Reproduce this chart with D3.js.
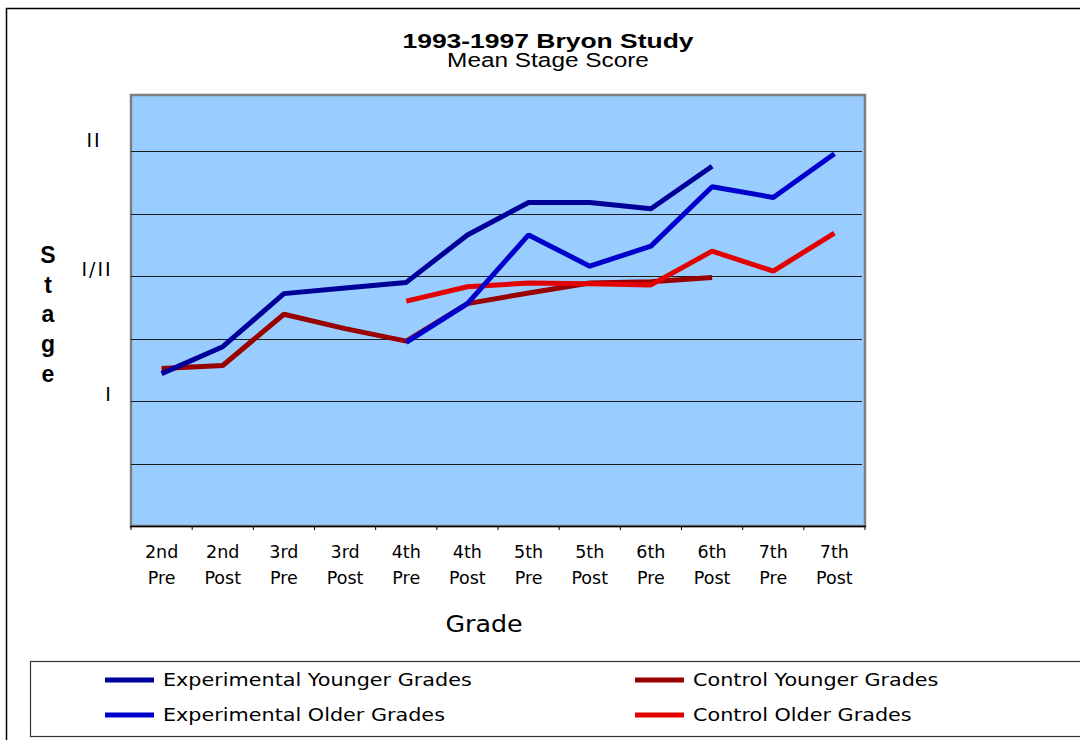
<!DOCTYPE html>
<html>
<head>
<meta charset="utf-8">
<script src="https://cdn.jsdelivr.net/npm/d3@7"></script>
<style>
  body { margin: 0; background: #fff; }
  svg { display: block; }
</style>
</head>
<body>
<svg width="1080" height="740"></svg>
<script>
// grades along the x axis ("grade + test")
var categories = ["2nd Pre", "2nd Post", "3rd Pre", "3rd Post", "4th Pre", "4th Post",
  "5th Pre", "5th Post", "6th Pre", "6th Post", "7th Pre", "7th Post"];

// mean stage scores (null = not measured)
var expYounger = [2.44, 2.87, 3.72, 3.81, 3.90, 4.66, 5.18, 5.18, 5.08, 5.76, null, null];
var expOlder   = [null, null, null, null, 2.94, 3.56, 4.66, 4.16, 4.48, 5.43, 5.26, 5.96];
var ctlYounger = [2.52, 2.57, 3.39, 3.16, 2.96, 3.56, 3.73, 3.89, 3.91, 3.98, null, null];
var ctlOlder   = [null, null, null, null, 3.60, 3.83, 3.89, 3.88, 3.86, 4.40, 4.08, 4.69];

var stageTicks = [2, 4, 6];
var stageLabels = ["I", "I/II", "II"];

var series = [
  { name: "Control Younger Grades", values: ctlYounger, color: "#990000" },
  { name: "Control Older Grades", values: ctlOlder, color: "#e30000" },
  { name: "Experimental Younger Grades", values: expYounger, color: "#000099" },
  { name: "Experimental Older Grades", values: expOlder, color: "#0000cc" }
];

var svg = d3.select("svg");
var plotLeft = 131, plotRight = 865, plotTop = 95, plotBottom = 526;

var x = d3.scaleBand().domain(categories).range([plotLeft, plotRight]);
var y = d3.scaleLinear().domain([0, 6.9]).range([plotBottom, plotTop]);

// text that is stretched horizontally like the original
function stretchText(parent, cx, cy, str, size, sx, font, weight, anchor) {
  return parent.append("g")
    .attr("transform", "translate(" + cx + "," + cy + ") scale(" + sx + ",1)")
    .append("text")
    .attr("text-anchor", anchor || "middle")
    .attr("font-family", font)
    .attr("font-size", size)
    .attr("font-weight", weight || "normal")
    .attr("fill", "#000")
    .text(str);
}

// outer chart frame
svg.append("rect")
  .attr("x", 6.5).attr("y", 8.5)
  .attr("width", 1100).attr("height", 800)
  .attr("fill", "#fff")
  .attr("stroke", "#000").attr("stroke-width", 1.5);

// titles
stretchText(svg, 548, 48, "1993-1997 Bryon Study", 21, 1.26, "Liberation Sans, Arial, sans-serif", "bold");
stretchText(svg, 548, 67, "Mean Stage Score", 19.5, 1.25, "Liberation Sans, Arial, sans-serif");

// plot area
svg.append("rect")
  .attr("x", plotLeft).attr("y", plotTop)
  .attr("width", plotRight - plotLeft).attr("height", plotBottom - plotTop)
  .attr("fill", "#99ccff")
  .attr("stroke", "#7f7f7f").attr("stroke-width", 2.5);

// gridlines
svg.append("g")
  .attr("transform", "translate(" + plotLeft + ",0)")
  .call(d3.axisLeft(y).tickValues(d3.range(1, 7)).tickSize(-(plotRight - plotLeft - 3)).tickFormat(""))
  .call(function (g) { g.select(".domain").remove(); })
  .selectAll("line")
  .attr("stroke", "#1a1a1a")
  .attr("shape-rendering", "crispEdges");

// x axis line and ticks between categories
var xAxis = svg.append("g");
xAxis.append("line")
  .attr("x1", plotLeft - 1).attr("x2", plotRight + 1)
  .attr("y1", plotBottom + 0.5).attr("y2", plotBottom + 0.5)
  .attr("stroke", "#000").attr("stroke-width", 1.5);
xAxis.selectAll(".tick")
  .data(categories.concat([null]))
  .enter().append("line")
  .attr("x1", function (d, i) { return i < categories.length ? x(d) : plotRight; })
  .attr("x2", function (d, i) { return i < categories.length ? x(d) : plotRight; })
  .attr("y1", plotBottom).attr("y2", plotBottom + 4)
  .attr("stroke", "#000").attr("stroke-width", 1);

var xl = xAxis.selectAll(".xlabel")
  .data(categories)
  .enter().append("text")
  .attr("class", "xlabel")
  .attr("text-anchor", "middle")
  .attr("font-family", "DejaVu Sans, Verdana, sans-serif")
  .attr("font-size", 17.5)
  .attr("fill", "#000");
xl.append("tspan")
  .attr("x", function (d) { return x(d) + x.bandwidth() / 2; })
  .attr("y", 558)
  .text(function (d) { return d.split(" ")[0]; });
xl.append("tspan")
  .attr("x", function (d) { return x(d) + x.bandwidth() / 2; })
  .attr("y", 584)
  .text(function (d) { return d.split(" ")[1]; });

stretchText(svg, 484, 632, "Grade", 23, 1.1, "DejaVu Sans, Verdana, sans-serif");

// stage labels
var labelX = [109, 97, 94];
svg.selectAll(".ylabel")
  .data(stageTicks)
  .enter().append("text")
  .attr("class", "ylabel")
  .attr("x", function (d, i) { return labelX[i]; })
  .attr("y", function (d, i) { return y(d) - (i === 2 ? 4 : 0); })
  .attr("text-anchor", "middle")
  .attr("font-family", "DejaVu Sans, Verdana, sans-serif")
  .attr("font-size", 19)
  .attr("letter-spacing", 2)
  .attr("fill", "#000")
  .text(function (d, i) { return stageLabels[i]; });

// vertical "Stage"
svg.append("g").selectAll("text")
  .data("Stage".split(""))
  .enter().append("text")
  .attr("x", 48)
  .attr("y", function (d, i) { return 263 + i * 29.7; })
  .attr("text-anchor", "middle")
  .attr("font-family", "Liberation Sans, Arial, sans-serif")
  .attr("font-weight", "bold")
  .attr("font-size", 23)
  .attr("fill", "#000")
  .text(function (d) { return d; });

// series lines
var line = d3.line()
  .defined(function (d) { return d != null; })
  .x(function (d, i) { return x(categories[i]) + x.bandwidth() / 2; })
  .y(function (d) { return y(d); });

svg.append("g").selectAll("path")
  .data(series)
  .enter().append("path")
  .attr("d", function (d) { return line(d.values); })
  .attr("fill", "none")
  .attr("stroke", function (d) { return d.color; })
  .attr("stroke-width", 5)
  .attr("stroke-linejoin", "bevel");

// legend
svg.append("rect")
  .attr("x", 30.5).attr("y", 661.5)
  .attr("width", 1100).attr("height", 75)
  .attr("fill", "#fff")
  .attr("stroke", "#333").attr("stroke-width", 1.2);

var legendOrder = [2, 0, 3, 1];
var legendPos = [[105, 680], [635, 680], [105, 715], [635, 715]];
legendOrder.forEach(function (si, k) {
  var s = series[si], p = legendPos[k];
  svg.append("line")
    .attr("x1", p[0]).attr("x2", p[0] + 49)
    .attr("y1", p[1]).attr("y2", p[1])
    .attr("stroke", s.color).attr("stroke-width", 5);
  stretchText(svg, p[0] + 58, p[1] + 6, s.name, 17, 1.22, "DejaVu Sans, Verdana, sans-serif", "normal", "start");
});
</script>
</body>
</html>
